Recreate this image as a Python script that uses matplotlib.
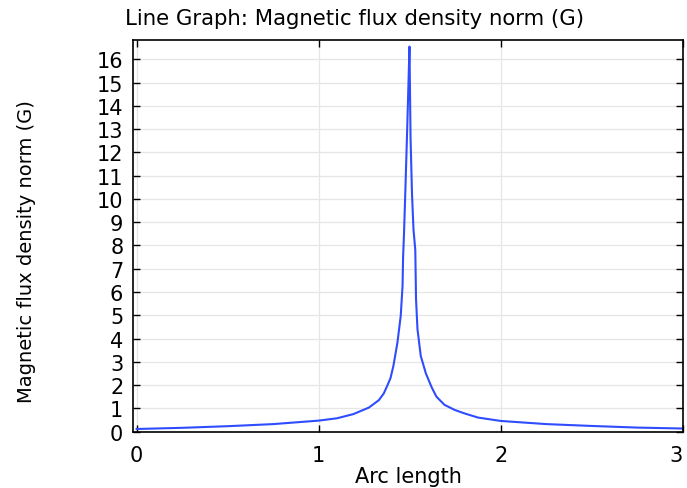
import numpy as np
import matplotlib
matplotlib.use("Agg")
import matplotlib.pyplot as plt

# arc length vs |B|
arc = [0.0, 0.25, 0.5, 0.75, 1.0, 1.1, 1.19, 1.275, 1.33, 1.357, 1.375, 1.394,
       1.41, 1.432, 1.45, 1.46, 1.463, 1.468, 1.476, 1.484, 1.492, 1.498,
       1.504, 1.512, 1.52, 1.53, 1.534, 1.542, 1.56, 1.588, 1.62, 1.646,
       1.69, 1.746, 1.8, 1.875, 2.0, 2.25, 2.5, 2.75, 3.0]
bnorm = [0.11, 0.16, 0.23, 0.32, 0.47, 0.57, 0.75, 1.03, 1.35, 1.64, 1.95, 2.3,
         2.83, 3.83, 4.97, 6.26, 7.5, 8.5, 10.5, 12.6, 14.8, 16.55,
         12.6, 10.2, 8.7, 7.8, 5.7, 4.4, 3.25, 2.5, 1.9, 1.5,
         1.15, 0.93, 0.78, 0.6, 0.455, 0.32, 0.24, 0.17, 0.13]

xticks = [0, 1, 2, 3]
yticks = list(range(0, 17))

fig = plt.figure(figsize=(6.87, 4.89), dpi=100)
ax = fig.add_axes([0.1936, 0.1145, 0.8006, 0.8015])

ax.plot(arc, bnorm, color="#2f4cff", lw=1.5)

ax.set_xlim(-0.02, 3.0)
ax.set_ylim(-0.02, 16.83)
ax.set_xticks(xticks)
ax.set_yticks(yticks)
ax.grid(True, color="#e6e6e6", lw=0.9)
ax.set_axisbelow(True)
ax.tick_params(direction="in", top=True, right=True, length=5, width=1,
               labelsize=15, pad=7)
ax.tick_params(axis="x", pad=9)
# last label sits right at the figure edge in the original
ax.get_xticklabels()[-1].set_ha("right")
for s in ax.spines.values():
    s.set_linewidth(1.2)

ax.set_xlabel("Arc length", fontsize=15, labelpad=1)
fig.text(0.038, 0.485, "Magnetic flux density norm (G)", rotation=90,
         fontsize=14, ha="center", va="center")
fig.text(0.516, 0.961, "Line Graph: Magnetic flux density norm (G)",
         fontsize=15.3, ha="center", va="center")

fig.savefig("out.png", dpi=100)
